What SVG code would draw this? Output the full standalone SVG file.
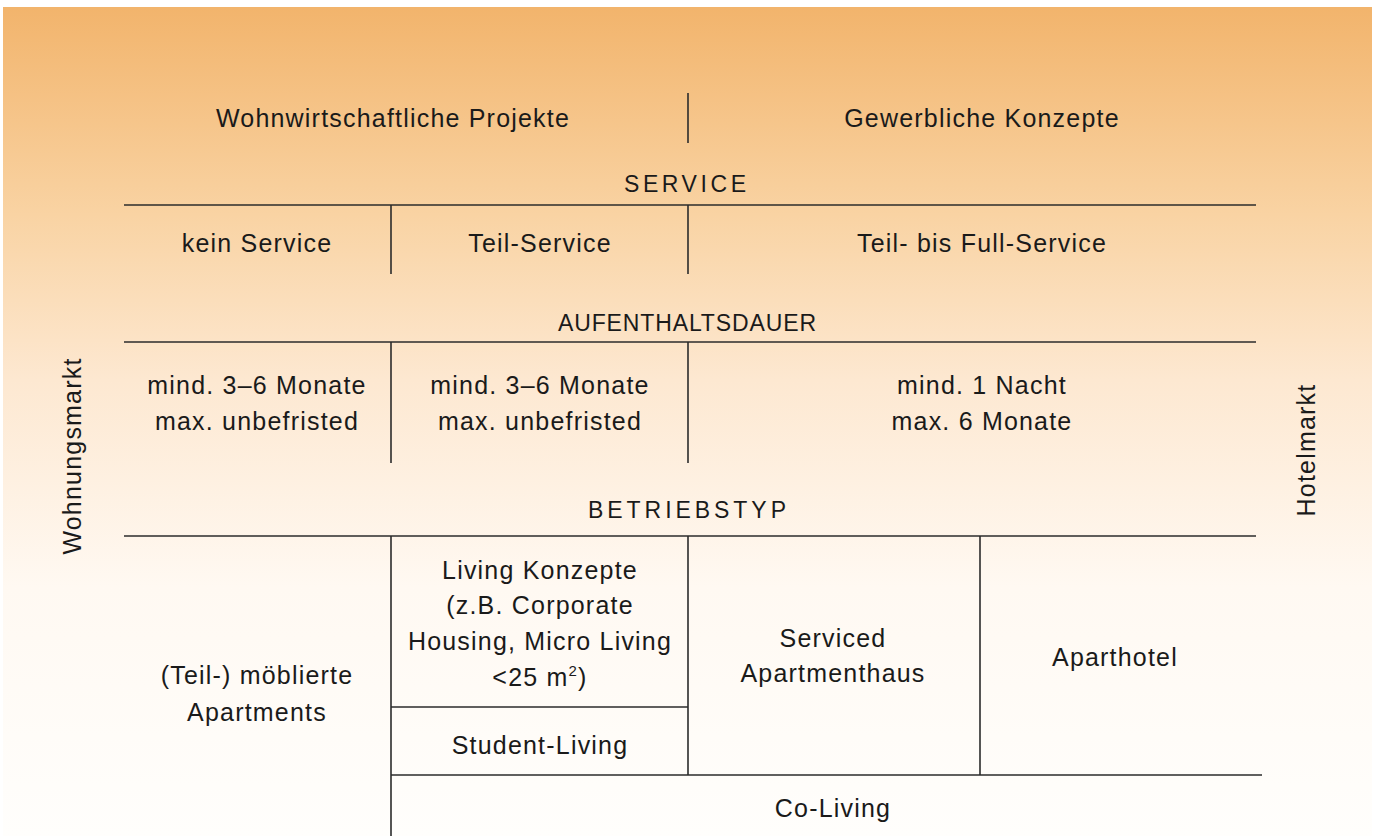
<svg xmlns="http://www.w3.org/2000/svg" width="1375" height="836" viewBox="0 0 1375 836">
<defs>
<linearGradient id="bg" x1="0" y1="0" x2="0" y2="1">
<stop offset="0" stop-color="#F2B46C"/>
<stop offset="0.25" stop-color="#F9D3A3"/>
<stop offset="0.45" stop-color="#FDE8D1"/>
<stop offset="0.7" stop-color="#FFF9F2"/>
<stop offset="1" stop-color="#FFFEFC"/>
</linearGradient>
<style>
text{font-family:"Liberation Sans",Arial,sans-serif;font-size:25px;fill:#1a1a1a;text-anchor:middle;letter-spacing:1.2px}
.cap{font-size:23px;letter-spacing:2px}
line{stroke:#2b2b2b;stroke-width:1.6}
</style>
</defs>
<rect x="3" y="7" width="1369" height="829" fill="url(#bg)"/>
<g id="connectors">
<line x1="688" y1="93" x2="688" y2="143"/>
<line x1="124" y1="205" x2="1256" y2="205"/>
<line x1="391" y1="205" x2="391" y2="274"/>
<line x1="688" y1="205" x2="688" y2="274"/>
<line x1="124" y1="342" x2="1256" y2="342"/>
<line x1="391" y1="342" x2="391" y2="463"/>
<line x1="688" y1="342" x2="688" y2="463"/>
<line x1="124" y1="536" x2="1256" y2="536"/>
<line x1="391" y1="536" x2="391" y2="836"/>
<line x1="688" y1="536" x2="688" y2="775"/>
<line x1="980" y1="536" x2="980" y2="775"/>
<line x1="391" y1="707" x2="688" y2="707"/>
<line x1="391" y1="775" x2="1262" y2="775"/>
</g>
<g id="header-left"><text x="393" y="127">Wohnwirtschaftliche Projekte</text></g>
<g id="header-right"><text x="982" y="127">Gewerbliche Konzepte</text></g>
<g id="service"><text class="cap" x="686" y="192" textLength="124" lengthAdjust="spacing">SERVICE</text></g>
<g id="kein-service"><text x="257" y="252">kein Service</text></g>
<g id="teil-service"><text x="540" y="252">Teil-Service</text></g>
<g id="full-service"><text x="982" y="252">Teil- bis Full-Service</text></g>
<g id="aufenthaltsdauer"><text class="cap" x="688" y="331" textLength="260" lengthAdjust="spacing">AUFENTHALTSDAUER</text></g>
<g id="dauer-1"><text x="257" y="394">mind. 3–6 Monate</text><text x="257" y="430">max. unbefristed</text></g>
<g id="dauer-2"><text x="540" y="394">mind. 3–6 Monate</text><text x="540" y="430">max. unbefristed</text></g>
<g id="dauer-3"><text x="982" y="394">mind. 1 Nacht</text><text x="982" y="430">max. 6 Monate</text></g>
<g id="betriebstyp"><text class="cap" x="688" y="518" textLength="200" lengthAdjust="spacing">BETRIEBSTYP</text></g>
<g id="moeblierte"><text x="257" y="684">(Teil-) möblierte</text><text x="257" y="721">Apartments</text></g>
<g id="living-konzepte"><text x="540" y="579">Living Konzepte</text><text x="540" y="614">(z.B. Corporate</text><text x="540" y="650">Housing, Micro Living</text><text x="540" y="686">&lt;25 m<tspan font-size="15" dy="-10">2</tspan><tspan dy="10">)</tspan></text></g>
<g id="student-living"><text x="540" y="754">Student-Living</text></g>
<g id="serviced"><text x="833" y="647">Serviced</text><text x="833" y="682">Apartmenthaus</text></g>
<g id="aparthotel"><text x="1115" y="666">Aparthotel</text></g>
<g id="co-living"><text x="833" y="817">Co-Living</text></g>
<g id="wohnungsmarkt"><text transform="translate(81,456) rotate(-90)">Wohnungsmarkt</text></g>
<g id="hotelmarkt"><text transform="translate(1315,450) rotate(-90)">Hotelmarkt</text></g>
</svg>
